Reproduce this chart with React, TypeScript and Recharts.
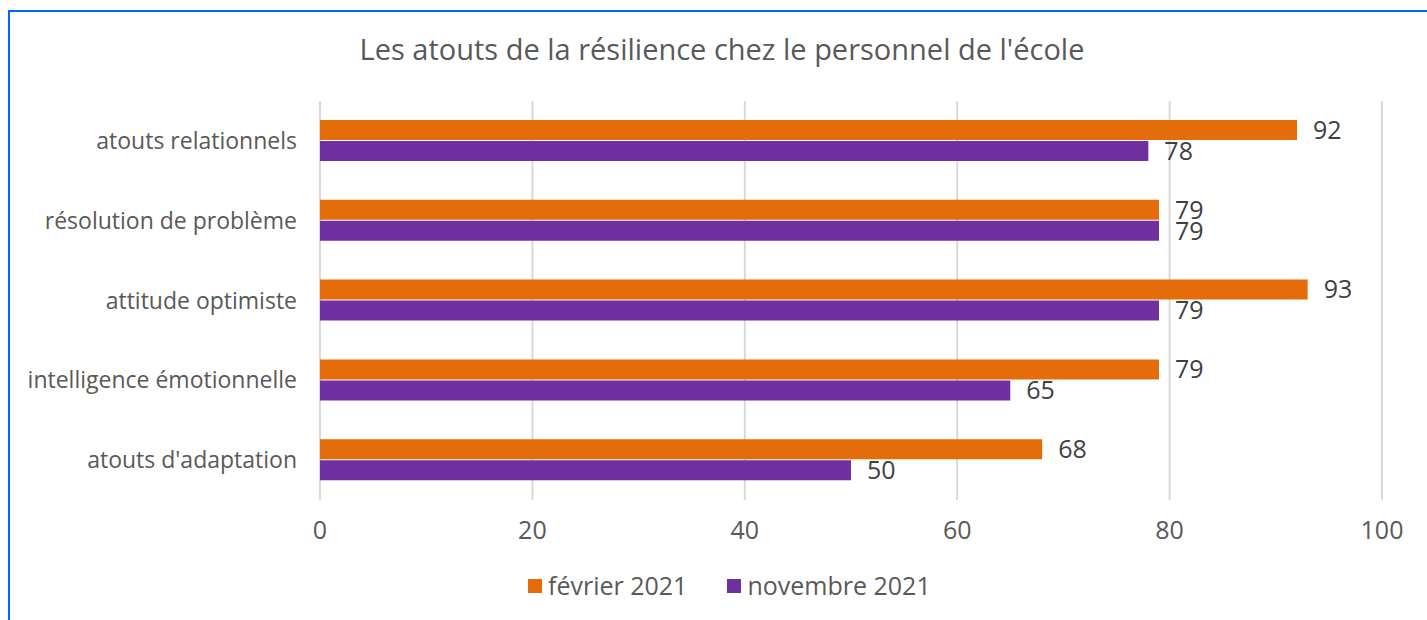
import { BarChart, Bar, XAxis, YAxis, CartesianGrid, LabelList } from "recharts";

const categories = [
  "atouts relationnels",
  "résolution de problème",
  "attitude optimiste",
  "intelligence émotionnelle",
  "atouts d'adaptation",
];
const fevrier2021 = [92, 79, 93, 79, 68];
const novembre2021 = [78, 79, 79, 65, 50];
const xTicks = [0, 20, 40, 60, 80, 100];

const series = [
  { key: "fev", name: "février 2021", color: "#E46C0A" },
  { key: "nov", name: "novembre 2021", color: "#7030A0" },
];

const data = categories.map((c, i) => ({ cat: c, fev: fevrier2021[i], nov: novembre2021[i] }));

const FONT = '"Open Sans", sans-serif';

export default function App() {
  return (
    <div
      style={{
        position: "absolute",
        left: 8,
        top: 10,
        width: 1419,
        height: 610,
        borderTop: "2px solid #0066FF",
        borderLeft: "2px solid #0066FF",
        background: "#fff",
        fontFamily: FONT,
      }}
    >
      <div
        style={{
          position: "absolute",
          left: 0,
          top: 22,
          width: 1424,
          textAlign: "center",
          fontSize: 29,
          lineHeight: "29px",
          color: "#595959",
        }}
      >
        Les atouts de la résilience chez le personnel de l'école
      </div>
      <div style={{ position: "absolute", left: 0, top: 0 }}>
        <BarChart
          width={1417}
          height={608}
          data={data}
          layout="vertical"
          margin={{ top: 89, right: 45, left: 0, bottom: 80 }}
          barGap={1}
        >
          <CartesianGrid horizontal={false} stroke="#D9D9D9" strokeWidth={2} />
          <XAxis
            type="number"
            domain={[0, 100]}
            ticks={xTicks}
            axisLine={false}
            tickLine={false}
            tickSize={0}
            tickMargin={21}
            height={40}
            tick={{ fill: "#595959", fontSize: 25, fontFamily: FONT }}
          />
          <YAxis
            type="category"
            dataKey="cat"
            width={310}
            axisLine={false}
            tickLine={false}
            tickSize={0}
            tickMargin={23}
            tick={{ fill: "#595959", fontSize: 23, fontFamily: FONT }}
          />
          {series.map((s) => (
            <Bar key={s.key} dataKey={s.key} name={s.name} fill={s.color} barSize={20} isAnimationActive={false}>
              <LabelList dataKey={s.key} position="right" offset={16} fill="#404040" fontSize={25} fontFamily={FONT} />
            </Bar>
          ))}
        </BarChart>
      </div>
      <div
        style={{
          position: "absolute",
          left: 518,
          top: 561,
          display: "flex",
          alignItems: "center",
          fontSize: 25,
          lineHeight: "25px",
          color: "#595959",
        }}
      >
        {series.map((s, i) => (
          <div key={s.key} style={{ display: "flex", alignItems: "center", marginLeft: i === 0 ? 0 : 40 }}>
            <span style={{ width: 14, height: 14, background: s.color, marginRight: 6, display: "inline-block" }} />
            <span>{s.name}</span>
          </div>
        ))}
      </div>
    </div>
  );
}
